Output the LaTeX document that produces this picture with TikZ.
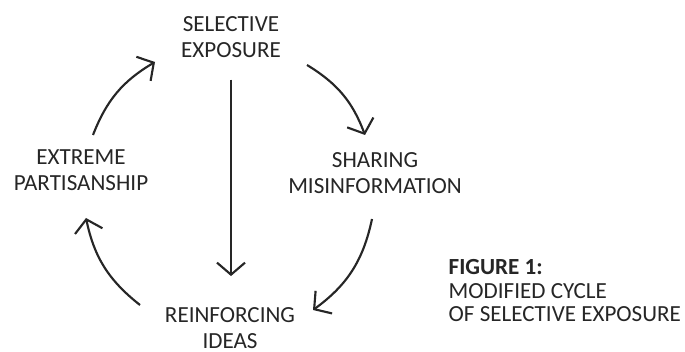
\documentclass[tikz,border=0pt]{standalone}
\usepackage{fontspec}
\setmainfont{Carlito}
\usetikzlibrary{arrows.meta,calc,positioning}

\tikzset{
	flow/.style={line width=1.6pt, draw=black!85, -{Straight Barb[length=9pt,width=21pt]}},
	stage/.style={align=center, text=black!85, font=\fontsize{17.3}{19.5}\selectfont},
}

\begin{document}
\begin{tikzpicture}[x=0.75pt,y=0.75pt]
	\useasboundingbox (0,0) rectangle (685,-352);
	% stages of the cycle
	\node[stage] (sel) at (231,-37) {SELECTIVE\\EXPOSURE};
	\node[stage] (shr) at (375,-173) {SHARING\\MISINFORMATION};
	\node[stage] (rei) at (230,-328) {REINFORCING\\IDEAS};
	\node[stage] (ext) at (81,-170) {EXTREME\\PARTISANSHIP};
	% arc ends
	\coordinate (e1) at (93,-135);  \coordinate (e2) at (155,-62);
	\coordinate (s1) at (307,-65);  \coordinate (s2) at (365,-135);
	\coordinate (h1) at (372,-219); \coordinate (h2) at (313,-310);
	\coordinate (r1) at (140,-305); \coordinate (r2) at (86,-218);
	\draw[flow] (e1) to[bend left=19] (e2);
	\draw[flow] (s1) to[bend left=19] (s2);
	\draw[flow] (h1) to[bend left=21] (h2);
	\draw[flow] (r1) to[bend left=20] (r2);
	\draw[flow, shorten <=13pt, shorten >=20pt] (sel.south) -- (sel.south |- rei.north);
	% caption
	\node[anchor=north west, align=left, text=black!85, font=\fontsize{17.3}{17.6}\selectfont] (cap) at (444,-255)
		{\textbf{FIGURE 1:}\\MODIFIED CYCLE\\OF SELECTIVE EXPOSURE};
\end{tikzpicture}
\end{document}
